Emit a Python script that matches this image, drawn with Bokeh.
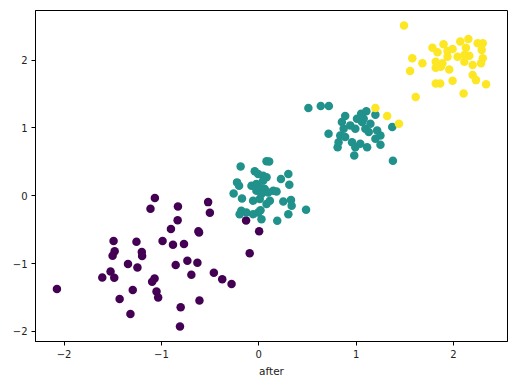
from bokeh.plotting import figure
from bokeh.models import FixedTicker, Range1d
from bokeh.embed import file_html
from bokeh.resources import INLINE

purple_x = [-1.067, -1.112, -0.830, -0.520, -0.502, -0.833, -0.902, -0.620, -0.613, -1.491,
            -1.256, -0.988, -0.881, -0.768, -1.480, -1.501, -1.201, -1.198, -1.343, -1.246,
            -0.853, -0.733, -0.630, -1.522, -1.607, -1.484, -0.692, -0.461, -0.375, -0.279,
            -1.070, -1.095, -2.073, -1.294, -1.050, -1.033, -1.429, -0.609, -0.802, -1.318,
            -0.809, -0.130, 0.004, -0.093]
purple_y = [-0.034, -0.193, -0.158, -0.094, -0.252, -0.360, -0.489, -0.523, -0.543, -0.667,
            -0.677, -0.667, -0.721, -0.711, -0.819, -0.884, -0.830, -0.889, -1.007, -1.056,
            -1.022, -0.958, -0.988, -1.116, -1.205, -1.210, -1.165, -1.136, -1.230, -1.299,
            -1.220, -1.269, -1.373, -1.388, -1.412, -1.501, -1.521, -1.545, -1.644, -1.743,
            -1.926, -0.365, -0.523, -0.849]

teal_x = [0.080, 0.107, -0.186, -0.041, -0.006, 0.045, 0.080, 0.304, 0.228, 0.314,
          -0.223, -0.202, -0.258, -0.172, -0.075, -0.024, 0.010, 0.062, 0.097, 0.149,
          0.183, -0.058, 0.010, 0.114, 0.080, 0.252, 0.331, 0.338, -0.179, -0.127,
          -0.058, -0.006, 0.018, 0.304, 0.486, 0.028, 0.190, -0.196, 0.045, 0.028,
          -0.024,
          0.510, 0.637, 0.720, 0.888, 0.854, 1.051, 1.105, 1.198, 1.009, 1.061,
          0.940, 0.992, 1.095, 1.130, 0.872, 0.837, 0.888, 0.717, 1.216, 1.250,
          1.198, 1.371, 0.958, 1.043, 0.992, 1.113, 1.250, 0.810, 0.981, 1.378,
          0.820, 1.078, 1.147]
teal_y = [0.508, 0.504, 0.430, 0.360, 0.321, 0.296, 0.271, 0.321, 0.247, 0.163,
          0.197, 0.148, 0.034, -0.040, 0.148, 0.173, 0.114, 0.099, 0.049, 0.074,
          0.064, -0.074, -0.049, -0.074, -0.123, -0.084, -0.064, -0.148, -0.222, -0.247,
          -0.271, -0.247, -0.212, -0.271, -0.207, -0.345, -0.370, -0.271, 0.222, 0.025,
          0.074,
          1.293, 1.323, 1.323, 1.175, 1.086, 1.210, 1.244, 1.195, 1.136, 1.086,
          1.037, 0.988, 0.988, 0.938, 0.988, 0.889, 0.864, 0.914, 0.963, 0.889,
          0.840, 1.012, 0.790, 0.766, 0.716, 0.716, 0.751, 0.716, 0.593, 0.514,
          0.790, 1.136, 1.062]

yellow_x = [1.198, 1.319, 1.440,
            1.492, 1.577, 1.554, 1.681, 1.612, 1.784, 1.898, 1.836, 1.939, 1.991,
            2.070, 2.153, 2.249, 2.301, 2.128, 2.290, 1.939, 2.042, 2.163, 2.301,
            1.818, 1.887, 2.112, 2.283, 2.197, 1.818, 1.870, 1.957, 2.197, 2.231,
            2.335, 1.991, 1.818, 1.864, 2.104, 2.112]
yellow_y = [1.293, 1.175, 1.062,
            2.508, 2.025, 1.837, 1.951, 1.456, 2.182, 2.232, 2.114, 2.133, 2.163,
            2.272, 2.311, 2.247, 2.247, 2.182, 2.148, 2.049, 2.049, 2.064, 2.025,
            1.975, 1.951, 1.975, 1.951, 1.926, 1.886, 1.901, 1.862, 1.778, 1.704,
            1.644, 1.694, 1.654, 1.654, 1.506, 2.074]

x_ticks = [-2, -1, 0, 1, 2]
y_ticks = [-2, -1, 0, 1, 2]
tick_labels = {-2: "\u22122", -1: "\u22121", 0: "0", 1: "1", 2: "2"}

p = figure(width=514, height=381, output_backend="svg", toolbar_location=None,
           x_range=Range1d(-2.293, 2.555), y_range=Range1d(-2.148, 2.73),
           min_border_left=35, min_border_right=7, min_border_top=10, min_border_bottom=40,
           x_axis_label="after")

p.scatter(purple_x, purple_y, size=8.5, fill_color="#440154", line_color="#440154", line_width=0)
p.scatter(teal_x, teal_y, size=8.5, fill_color="#21918c", line_color="#21918c", line_width=0)
p.scatter(yellow_x, yellow_y, size=8.5, fill_color="#fde725", line_color="#fde725", line_width=0)

p.xgrid.visible = False
p.ygrid.visible = False
p.outline_line_color = "black"
p.outline_line_width = 1
p.background_fill_color = "white"
p.border_fill_color = "white"

p.xaxis.ticker = FixedTicker(ticks=x_ticks)
p.yaxis.ticker = FixedTicker(ticks=y_ticks)
p.xaxis.major_label_overrides = tick_labels
p.yaxis.major_label_overrides = tick_labels
for ax in (p.xaxis, p.yaxis):
    ax.axis_line_color = "black"
    ax.major_tick_line_color = "black"
    ax.major_tick_out = 4
    ax.major_tick_in = 0
    ax.minor_tick_line_color = None
    ax.major_label_text_font = "DejaVu Sans"
    ax.major_label_text_font_size = "10px"
    ax.major_label_text_color = "#222222"
    ax.major_label_standoff = 4
    ax.axis_label_text_font = "DejaVu Sans"
    ax.axis_label_text_font_size = "10.5px"
    ax.axis_label_text_font_style = "normal"
    ax.axis_label_text_color = "#222222"
p.xaxis.axis_label_standoff = 4

open("out.html", "w").write(file_html(p, INLINE))
